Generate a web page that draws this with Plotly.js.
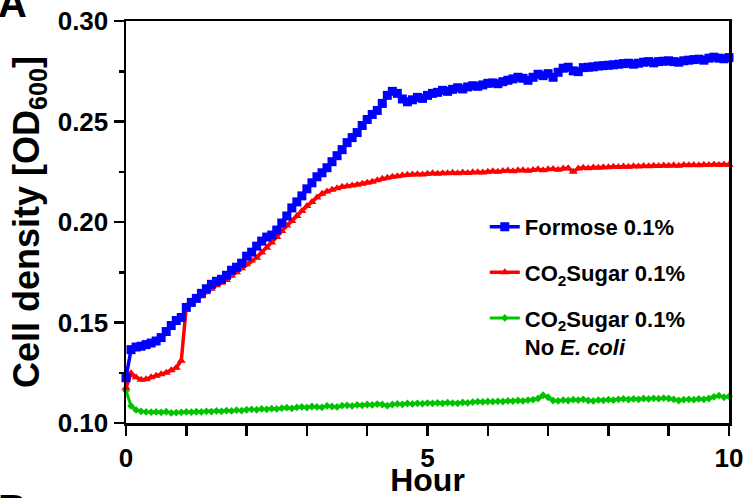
<!DOCTYPE html>
<html>
<head>
<meta charset="utf-8">
<script src="https://cdn.plot.ly/plotly-3.0.1.min.js"></script>
<style>html,body{margin:0;padding:0;background:#fff;}#chart{width:748px;height:498px;}</style>
</head>
<body>
<div id="chart"></div>
<script>
// sampling times (minutes)
const minutes = [
  0,5,10,15,20,25,30,35,40,45,50,55,
  60,65,70,75,80,85,90,95,100,105,110,115,
  120,125,130,135,140,145,150,155,160,165,170,175,
  180,185,190,195,200,205,210,215,220,225,230,235,
  240,245,250,255,260,265,270,275,280,285,290,295,
  300,305,310,315,320,325,330,335,340,345,350,355,
  360,365,370,375,380,385,390,395,400,405,410,415,
  420,425,430,435,440,445,450,455,460,465,470,475,
  480,485,490,495,500,505,510,515,520,525,530,535,
  540,545,550,555,560,565,570,575,580,585,590,595,
  600
];

const formose = [
  0.1225,0.1365,0.1378,0.1382,0.1390,0.1398,0.1408,0.1425,0.1455,0.1485,0.1510,0.1525,
  0.1575,0.1600,0.1620,0.1645,0.1668,0.1690,0.1705,0.1715,0.1735,0.1760,0.1775,0.1795,
  0.1830,0.1850,0.1880,0.1905,0.1925,0.1935,0.1960,0.1995,0.2030,0.2070,0.2100,0.2130,
  0.2165,0.2195,0.2225,0.2245,0.2270,0.2300,0.2330,0.2360,0.2395,0.2420,0.2445,0.2480,
  0.2510,0.2535,0.2555,0.2590,0.2630,0.2650,0.2640,0.2612,0.2598,0.2608,0.2620,0.2615,
  0.2630,0.2640,0.2645,0.2655,0.2650,0.2660,0.2668,0.2662,0.2672,0.2678,0.2675,0.2682,
  0.2690,0.2692,0.2688,0.2698,0.2705,0.2712,0.2720,0.2715,0.2705,0.2720,0.2735,0.2728,
  0.2738,0.2720,0.2745,0.2765,0.2770,0.2752,0.2748,0.2768,0.2770,0.2772,0.2776,0.2778,
  0.2780,0.2782,0.2785,0.2788,0.2790,0.2785,0.2790,0.2795,0.2798,0.2792,0.2798,0.2800,
  0.2802,0.2798,0.2795,0.2802,0.2805,0.2808,0.2810,0.2805,0.2815,0.2820,0.2815,0.2812,
  0.2818
];

const co2Sugar = [
  0.1175,0.1248,0.1228,0.1215,0.1218,0.1228,0.1235,0.1242,0.1250,0.1262,0.1275,0.1310,
  0.1580,0.1600,0.1612,0.1630,0.1650,0.1668,0.1685,0.1698,0.1712,0.1732,0.1750,0.1770,
  0.1790,0.1808,0.1822,0.1848,0.1872,0.1898,0.1925,0.1955,0.1982,0.2005,0.2030,0.2055,
  0.2080,0.2100,0.2122,0.2140,0.2152,0.2160,0.2168,0.2175,0.2178,0.2182,0.2185,0.2190,
  0.2195,0.2200,0.2208,0.2215,0.2220,0.2225,0.2228,0.2232,0.2235,0.2236,0.2238,0.2236,
  0.2240,0.2242,0.2240,0.2243,0.2242,0.2245,0.2243,0.2246,0.2244,0.2247,0.2248,0.2246,
  0.2250,0.2252,0.2250,0.2254,0.2256,0.2253,0.2257,0.2258,0.2255,0.2259,0.2262,0.2258,
  0.2262,0.2264,0.2260,0.2266,0.2268,0.2250,0.2266,0.2270,0.2268,0.2271,0.2270,0.2273,
  0.2272,0.2275,0.2274,0.2276,0.2275,0.2277,0.2276,0.2279,0.2277,0.2280,0.2278,0.2281,
  0.2280,0.2282,0.2280,0.2283,0.2282,0.2284,0.2282,0.2285,0.2283,0.2286,0.2284,0.2286,
  0.2285
];

const co2SugarNoEcoli = [
  0.1160,0.1085,0.1065,0.1058,0.1055,0.1054,0.1055,0.1053,0.1056,0.1050,0.1052,0.1053,
  0.1055,0.1054,0.1056,0.1055,0.1058,0.1057,0.1060,0.1058,0.1062,0.1060,0.1064,0.1062,
  0.1066,0.1068,0.1066,0.1070,0.1068,0.1072,0.1070,0.1074,0.1076,0.1073,0.1078,0.1080,
  0.1077,0.1082,0.1080,0.1078,0.1085,0.1082,0.1080,0.1086,0.1088,0.1085,0.1090,0.1088,
  0.1092,0.1090,0.1094,0.1092,0.1086,0.1092,0.1095,0.1093,0.1097,0.1095,0.1098,0.1096,
  0.1099,0.1098,0.1100,0.1098,0.1101,0.1099,0.1098,0.1102,0.1100,0.1104,0.1106,0.1105,
  0.1107,0.1106,0.1108,0.1107,0.1110,0.1109,0.1112,0.1110,0.1114,0.1116,0.1122,0.1138,
  0.1128,0.1112,0.1110,0.1114,0.1112,0.1116,0.1114,0.1118,0.1112,0.1110,0.1114,0.1113,
  0.1116,0.1114,0.1118,0.1120,0.1117,0.1120,0.1118,0.1122,0.1120,0.1123,0.1121,0.1124,
  0.1122,0.1118,0.1112,0.1116,0.1118,0.1116,0.1120,0.1118,0.1122,0.1130,0.1136,0.1128,
  0.1132
];

const seriesNames = [
  'Formose 0.1%',
  'CO<sub>2</sub>Sugar 0.1%',
  'CO<sub>2</sub>Sugar 0.1%<br>No <i>E. coli</i>'
];
const xTickVals = [0, 5, 10];
const yTickVals = [0.10, 0.15, 0.20, 0.25, 0.30];

const hours = minutes.map(m => m / 60);
const FONT = 'Liberation Sans, Arial, Helvetica, sans-serif';

const traces = [
  {
    x: hours, y: co2SugarNoEcoli, name: seriesNames[2], legendrank: 3,
    legendgroup: 'g3',
    type: 'scatter', mode: 'lines+markers',
    line: {color: '#00C400', width: 3},
    marker: {symbol: 'diamond', size: 6, color: '#00C400'},
    cliponaxis: false
  },
  {
    x: hours, y: co2Sugar, name: seriesNames[1], legendrank: 2,
    legendgroup: 'g2',
    type: 'scatter', mode: 'lines+markers',
    line: {color: '#FF0000', width: 3.5},
    marker: {symbol: 'triangle-up', size: 8, color: '#FF0000'},
    cliponaxis: false
  },
  {
    x: hours, y: formose, name: seriesNames[0], legendrank: 1,
    legendgroup: 'g1',
    type: 'scatter', mode: 'lines+markers',
    line: {color: '#0000FF', width: 3.5},
    marker: {symbol: 'square', size: 9, color: '#0000FF'},
    cliponaxis: false
  }
];

const layout = {
  width: 748, height: 498,
  margin: {l: 126, r: 19, t: 21, b: 75, pad: 0},
  paper_bgcolor: '#fff', plot_bgcolor: '#fff',
  font: {family: FONT, color: '#000', weight: 'bold'},
  showlegend: true,
  legend: {
    x: 0.595, y: 0.54, xanchor: 'left', yanchor: 'top',
    bgcolor: 'rgba(0,0,0,0)',
    font: {family: FONT, size: 22, color: '#000', weight: 'bold'},
    traceorder: 'grouped', tracegroupgap: 14, itemwidth: 30, valign: 'top'
  },
  xaxis: {
    range: [0, 10], showgrid: false, zeroline: false,
    showline: true, linecolor: '#000', linewidth: 2.5, mirror: true,
    ticks: 'outside', ticklen: 10, tickwidth: 2.5, tickcolor: '#000',
    tickmode: 'array', tickvals: xTickVals, ticktext: xTickVals.map(String),
    minor: {dtick: 1, ticks: 'outside', ticklen: 10, tickwidth: 2.5, tickcolor: '#000', showgrid: false},
    tickfont: {family: FONT, size: 26, weight: 'bold'},
    title: {text: 'Hour', font: {family: FONT, size: 32, weight: 'bold'}, standoff: 9}
  },
  yaxis: {
    range: [0.10, 0.30], showgrid: false, zeroline: false,
    showline: true, linecolor: '#000', linewidth: 2.5, mirror: true,
    ticks: 'outside', ticklen: 10, tickwidth: 2.5, tickcolor: '#000',
    tickmode: 'array', tickvals: yTickVals, ticktext: yTickVals.map(v => v.toFixed(2)),
    minor: {dtick: 0.025, ticks: 'outside', ticklen: 5, tickwidth: 2.5, tickcolor: '#000', showgrid: false},
    tickfont: {family: FONT, size: 26, weight: 'bold'},
    title: {text: 'Cell density [OD<sub>600</sub>]', font: {family: FONT, size: 36, weight: 'bold'}, standoff: 7}
  },
  annotations: [
    {text: 'A', xref: 'paper', yref: 'paper', x: -0.215, y: 0.985, xanchor: 'left', yanchor: 'bottom',
     showarrow: false, font: {family: FONT, size: 40, weight: 'bold'}},
    {text: 'B', xref: 'paper', yref: 'paper', x: -0.215, y: -0.155, xanchor: 'left', yanchor: 'top',
     showarrow: false, font: {family: FONT, size: 40, weight: 'bold'}}
  ]
};

Plotly.newPlot('chart', traces, layout, {displayModeBar: false, staticPlot: true});
</script>
</body>
</html>
